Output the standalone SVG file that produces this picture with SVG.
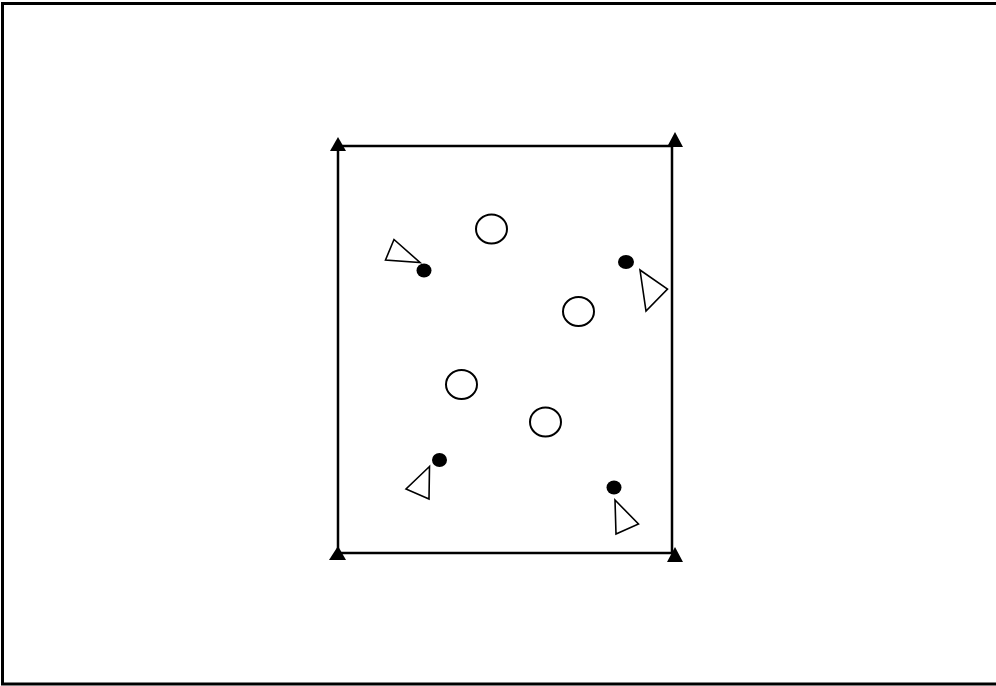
<svg xmlns="http://www.w3.org/2000/svg" width="996" height="686" viewBox="0 0 996 686">
<style>
.frame{fill:none;stroke:#000;stroke-width:3}
.edge{fill:none;stroke:#000;stroke-width:2.5}
.head{fill:#000;stroke:none}
.obj{fill:#fff;stroke:#000;stroke-width:1.6}
.dot{fill:#000}
.ring{fill:#fff;stroke:#000;stroke-width:2}
</style>
<rect class="frame" x="2.5" y="3.5" width="1010" height="680.5"/>
<g id="room">
<path class="edge" d="M338 146 L672 146 L672 553 L338 553 Z"/>
</g>
<g id="corners">
<polygon class="head" points="338,137 346,151 330,151"/>
<polygon class="head" points="675,132 683,147 667,147"/>
<polygon class="head" points="338,546 346,560 329,560"/>
<polygon class="head" points="675,547 683,562 667,562"/>
</g>
<g id="sensor1">
<polygon class="obj" points="394,239.5 385.5,260 420,262.5"/>
<ellipse class="dot" cx="424" cy="270.5" rx="7.5" ry="7"/>
</g>
<g id="sensor2">
<ellipse class="dot" cx="626" cy="262" rx="8" ry="7"/>
<polygon class="obj" points="640,270 667.5,289 646,311"/>
</g>
<g id="sensor3">
<ellipse class="dot" cx="439.5" cy="460" rx="7.5" ry="7"/>
<polygon class="obj" points="429.5,466.5 406,489 429,499"/>
</g>
<g id="sensor4">
<ellipse class="dot" cx="614" cy="487.5" rx="7.5" ry="7"/>
<polygon class="obj" points="615,500 638.5,524 616,534"/>
</g>
<g id="c1"><ellipse class="ring" cx="491.5" cy="229" rx="15.5" ry="14.5"/></g>
<g id="c2"><ellipse class="ring" cx="578.5" cy="311.5" rx="15.5" ry="14.5"/></g>
<g id="c3"><ellipse class="ring" cx="461.5" cy="384.5" rx="15.5" ry="14.5"/></g>
<g id="c4"><ellipse class="ring" cx="545.5" cy="422" rx="15.5" ry="14.5"/></g>
</svg>
